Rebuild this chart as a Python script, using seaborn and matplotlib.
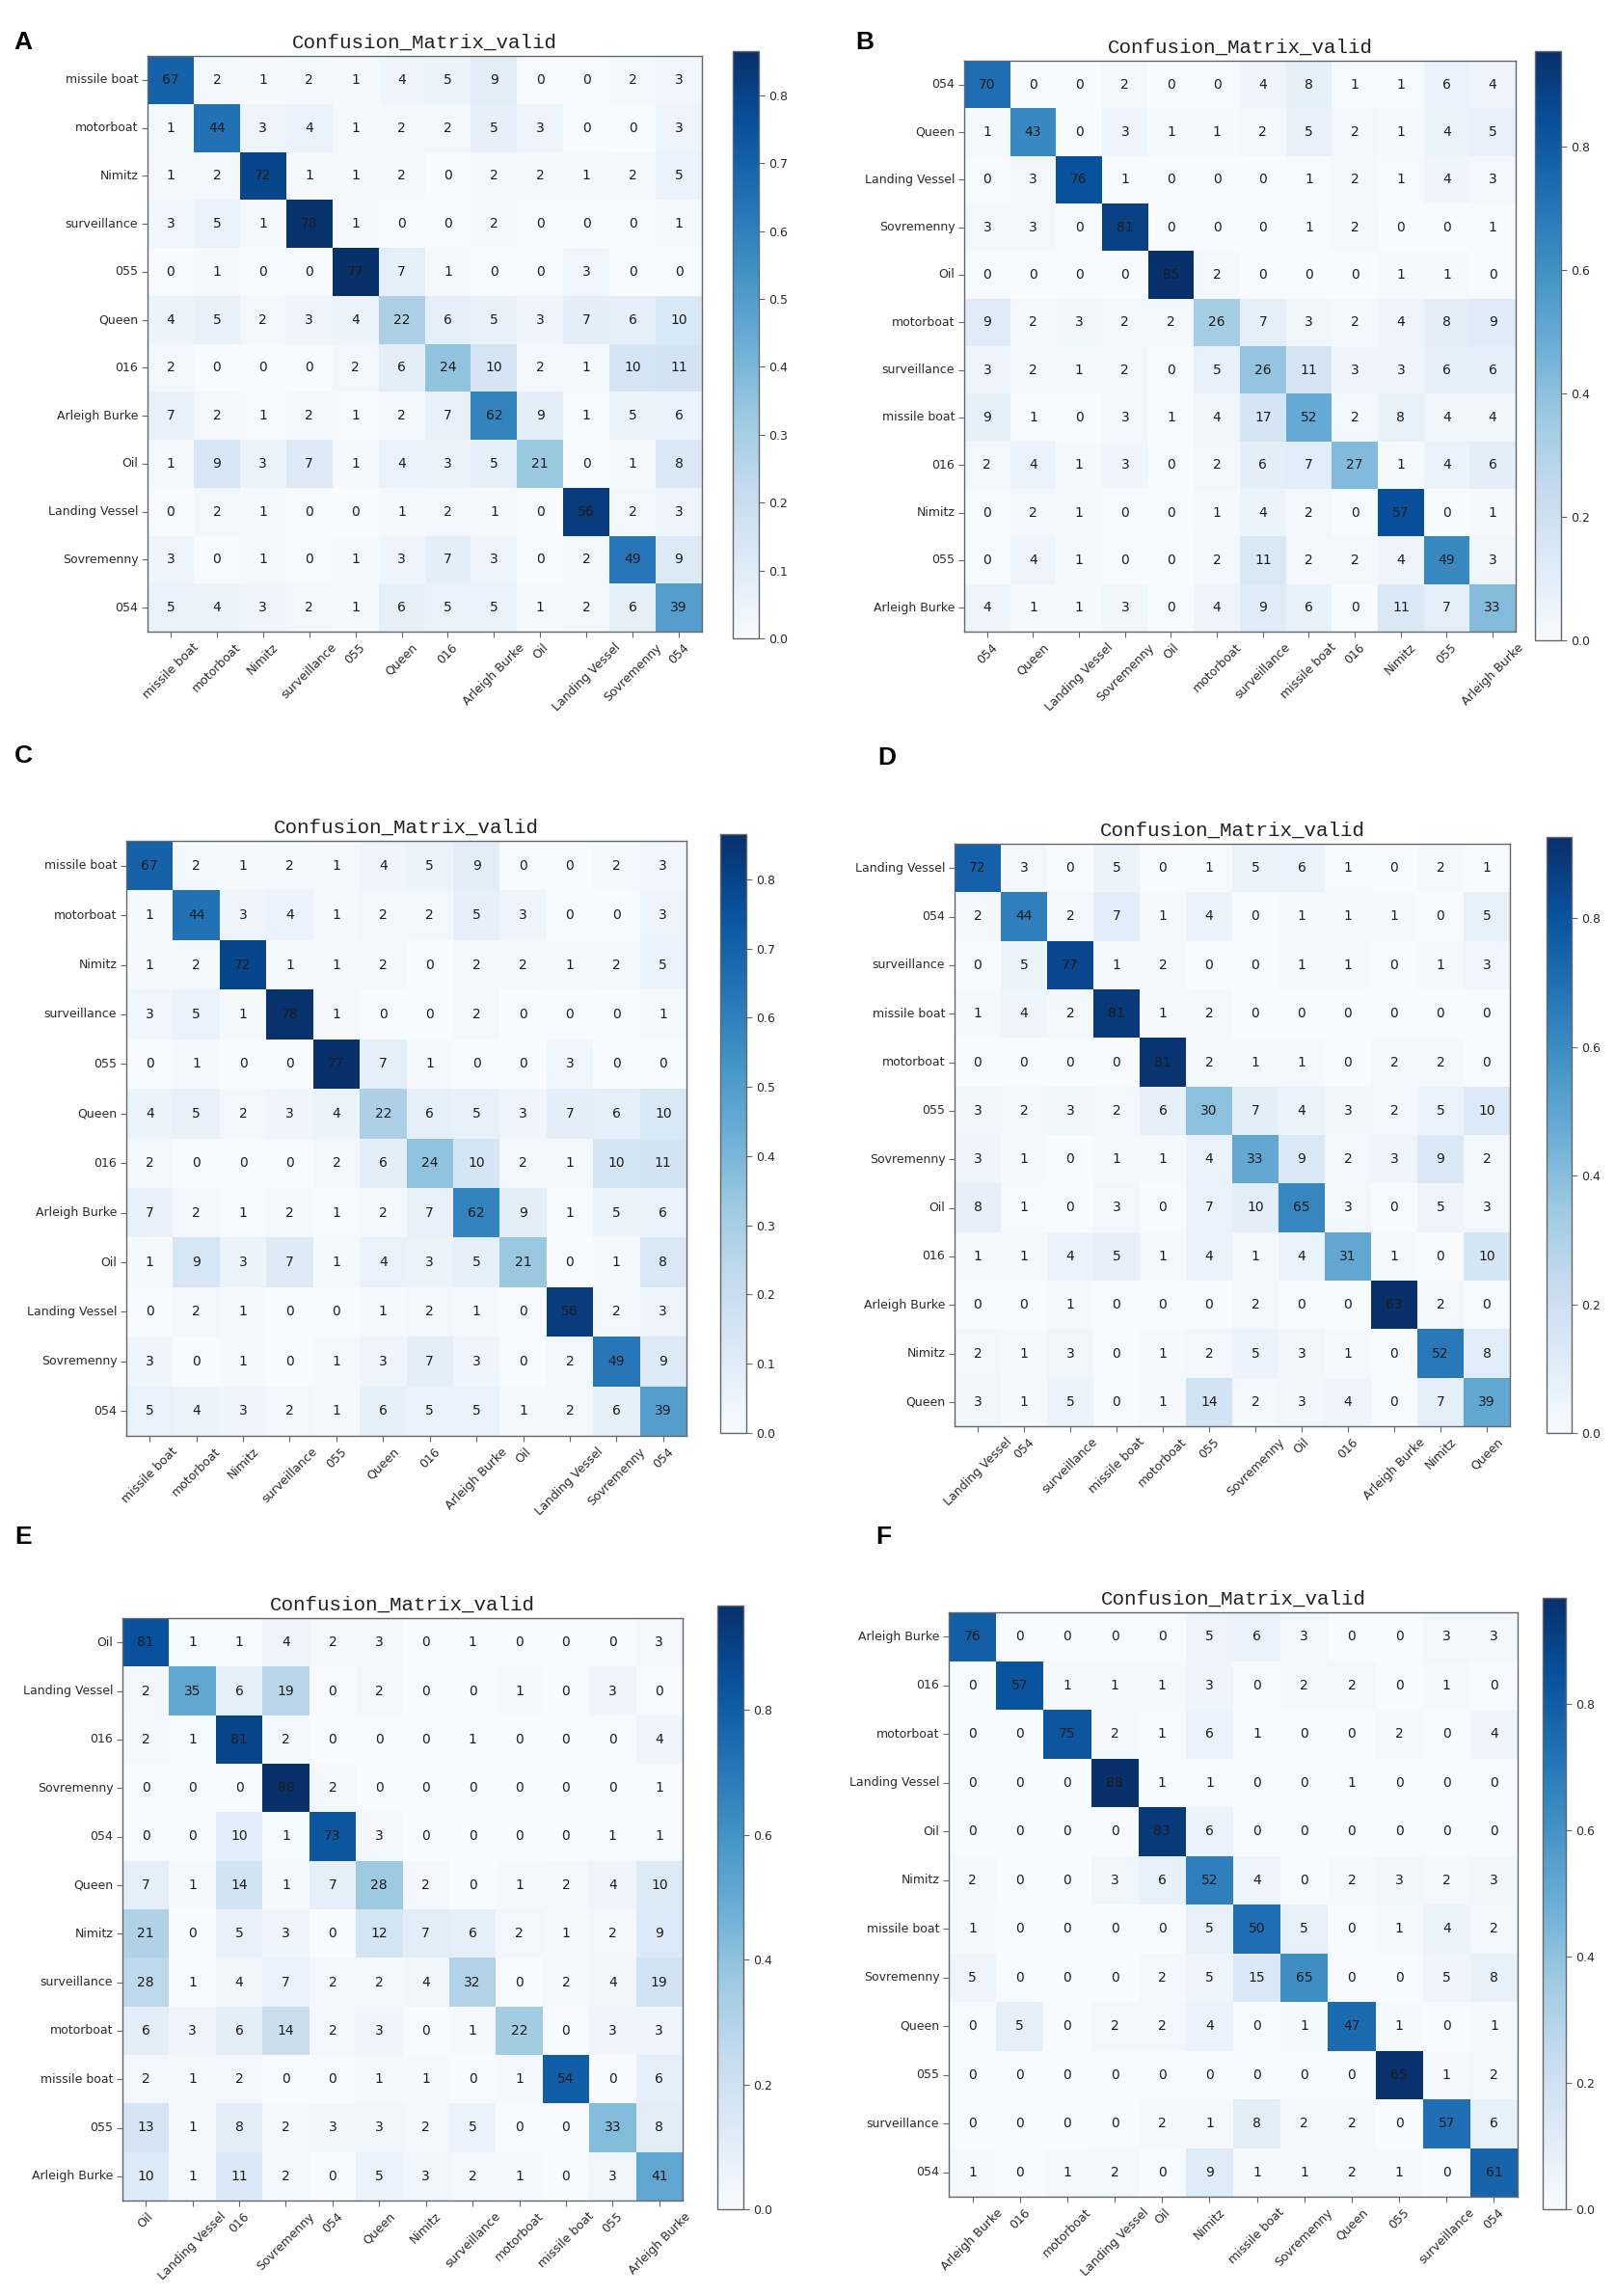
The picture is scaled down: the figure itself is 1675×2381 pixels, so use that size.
import numpy as np
import pandas as pd
import matplotlib
matplotlib.use("Agg")
import matplotlib.pyplot as plt
import seaborn as sns

# ---------------- data ----------------
labels_A = ["missile boat", "motorboat", "Nimitz", "surveillance", "055", "Queen",
            "016", "Arleigh Burke", "Oil", "Landing Vessel", "Sovremenny", "054"]
cm_A = [
    [67, 2, 1, 2, 1, 4, 5, 9, 0, 0, 2, 3],
    [1, 44, 3, 4, 1, 2, 2, 5, 3, 0, 0, 3],
    [1, 2, 72, 1, 1, 2, 0, 2, 2, 1, 2, 5],
    [3, 5, 1, 78, 1, 0, 0, 2, 0, 0, 0, 1],
    [0, 1, 0, 0, 77, 7, 1, 0, 0, 3, 0, 0],
    [4, 5, 2, 3, 4, 22, 6, 5, 3, 7, 6, 10],
    [2, 0, 0, 0, 2, 6, 24, 10, 2, 1, 10, 11],
    [7, 2, 1, 2, 1, 2, 7, 62, 9, 1, 5, 6],
    [1, 9, 3, 7, 1, 4, 3, 5, 21, 0, 1, 8],
    [0, 2, 1, 0, 0, 1, 2, 1, 0, 56, 2, 3],
    [3, 0, 1, 0, 1, 3, 7, 3, 0, 2, 49, 9],
    [5, 4, 3, 2, 1, 6, 5, 5, 1, 2, 6, 39],
]

labels_B = ["054", "Queen", "Landing Vessel", "Sovremenny", "Oil", "motorboat",
            "surveillance", "missile boat", "016", "Nimitz", "055", "Arleigh Burke"]
cm_B = [
    [70, 0, 0, 2, 0, 0, 4, 8, 1, 1, 6, 4],
    [1, 43, 0, 3, 1, 1, 2, 5, 2, 1, 4, 5],
    [0, 3, 76, 1, 0, 0, 0, 1, 2, 1, 4, 3],
    [3, 3, 0, 81, 0, 0, 0, 1, 2, 0, 0, 1],
    [0, 0, 0, 0, 85, 2, 0, 0, 0, 1, 1, 0],
    [9, 2, 3, 2, 2, 26, 7, 3, 2, 4, 8, 9],
    [3, 2, 1, 2, 0, 5, 26, 11, 3, 3, 6, 6],
    [9, 1, 0, 3, 1, 4, 17, 52, 2, 8, 4, 4],
    [2, 4, 1, 3, 0, 2, 6, 7, 27, 1, 4, 6],
    [0, 2, 1, 0, 0, 1, 4, 2, 0, 57, 0, 1],
    [0, 4, 1, 0, 0, 2, 11, 2, 2, 4, 49, 3],
    [4, 1, 1, 3, 0, 4, 9, 6, 0, 11, 7, 33],
]

labels_C = ["missile boat", "motorboat", "Nimitz", "surveillance", "055", "Queen",
            "016", "Arleigh Burke", "Oil", "Landing Vessel", "Sovremenny", "054"]
cm_C = [
    [67, 2, 1, 2, 1, 4, 5, 9, 0, 0, 2, 3],
    [1, 44, 3, 4, 1, 2, 2, 5, 3, 0, 0, 3],
    [1, 2, 72, 1, 1, 2, 0, 2, 2, 1, 2, 5],
    [3, 5, 1, 78, 1, 0, 0, 2, 0, 0, 0, 1],
    [0, 1, 0, 0, 77, 7, 1, 0, 0, 3, 0, 0],
    [4, 5, 2, 3, 4, 22, 6, 5, 3, 7, 6, 10],
    [2, 0, 0, 0, 2, 6, 24, 10, 2, 1, 10, 11],
    [7, 2, 1, 2, 1, 2, 7, 62, 9, 1, 5, 6],
    [1, 9, 3, 7, 1, 4, 3, 5, 21, 0, 1, 8],
    [0, 2, 1, 0, 0, 1, 2, 1, 0, 56, 2, 3],
    [3, 0, 1, 0, 1, 3, 7, 3, 0, 2, 49, 9],
    [5, 4, 3, 2, 1, 6, 5, 5, 1, 2, 6, 39],
]

labels_D = ["Landing Vessel", "054", "surveillance", "missile boat", "motorboat", "055",
            "Sovremenny", "Oil", "016", "Arleigh Burke", "Nimitz", "Queen"]
cm_D = [
    [72, 3, 0, 5, 0, 1, 5, 6, 1, 0, 2, 1],
    [2, 44, 2, 7, 1, 4, 0, 1, 1, 1, 0, 5],
    [0, 5, 77, 1, 2, 0, 0, 1, 1, 0, 1, 3],
    [1, 4, 2, 81, 1, 2, 0, 0, 0, 0, 0, 0],
    [0, 0, 0, 0, 81, 2, 1, 1, 0, 2, 2, 0],
    [3, 2, 3, 2, 6, 30, 7, 4, 3, 2, 5, 10],
    [3, 1, 0, 1, 1, 4, 33, 9, 2, 3, 9, 2],
    [8, 1, 0, 3, 0, 7, 10, 65, 3, 0, 5, 3],
    [1, 1, 4, 5, 1, 4, 1, 4, 31, 1, 0, 10],
    [0, 0, 1, 0, 0, 0, 2, 0, 0, 63, 2, 0],
    [2, 1, 3, 0, 1, 2, 5, 3, 1, 0, 52, 8],
    [3, 1, 5, 0, 1, 14, 2, 3, 4, 0, 7, 39],
]

labels_E = ["Oil", "Landing Vessel", "016", "Sovremenny", "054", "Queen", "Nimitz",
            "surveillance", "motorboat", "missile boat", "055", "Arleigh Burke"]
cm_E = [
    [81, 1, 1, 4, 2, 3, 0, 1, 0, 0, 0, 3],
    [2, 35, 6, 19, 0, 2, 0, 0, 1, 0, 3, 0],
    [2, 1, 81, 2, 0, 0, 0, 1, 0, 0, 0, 4],
    [0, 0, 0, 88, 2, 0, 0, 0, 0, 0, 0, 1],
    [0, 0, 10, 1, 73, 3, 0, 0, 0, 0, 1, 1],
    [7, 1, 14, 1, 7, 28, 2, 0, 1, 2, 4, 10],
    [21, 0, 5, 3, 0, 12, 7, 6, 2, 1, 2, 9],
    [28, 1, 4, 7, 2, 2, 4, 32, 0, 2, 4, 19],
    [6, 3, 6, 14, 2, 3, 0, 1, 22, 0, 3, 3],
    [2, 1, 2, 0, 0, 1, 1, 0, 1, 54, 0, 6],
    [13, 1, 8, 2, 3, 3, 2, 5, 0, 0, 33, 8],
    [10, 1, 11, 2, 0, 5, 3, 2, 1, 0, 3, 41],
]

labels_F = ["Arleigh Burke", "016", "motorboat", "Landing Vessel", "Oil", "Nimitz",
            "missile boat", "Sovremenny", "Queen", "055", "surveillance", "054"]
cm_F = [
    [76, 0, 0, 0, 0, 5, 6, 3, 0, 0, 3, 3],
    [0, 57, 1, 1, 1, 3, 0, 2, 2, 0, 1, 0],
    [0, 0, 75, 2, 1, 6, 1, 0, 0, 2, 0, 4],
    [0, 0, 0, 88, 1, 1, 0, 0, 1, 0, 0, 0],
    [0, 0, 0, 0, 83, 6, 0, 0, 0, 0, 0, 0],
    [2, 0, 0, 3, 6, 52, 4, 0, 2, 3, 2, 3],
    [1, 0, 0, 0, 0, 5, 50, 5, 0, 1, 4, 2],
    [5, 0, 0, 0, 2, 5, 15, 65, 0, 0, 5, 8],
    [0, 5, 0, 2, 2, 4, 0, 1, 47, 1, 0, 1],
    [0, 0, 0, 0, 0, 0, 0, 0, 0, 65, 1, 2],
    [0, 0, 0, 0, 2, 1, 8, 2, 2, 0, 57, 6],
    [1, 0, 1, 2, 0, 9, 1, 1, 2, 1, 0, 61],
]

ticks_fine = [0.0, 0.1, 0.2, 0.3, 0.4, 0.5, 0.6, 0.7, 0.8]
ticks_coarse = [0.0, 0.2, 0.4, 0.6, 0.8]
title_text = "Confusion_Matrix_valid"

# ---------------- layout (pixels) ----------------
W, H = 1675, 2381


def rect(l, t, r, b):
    return [l / W, 1 - b / H, (r - l) / W, (b - t) / H]


panels = [
    ("A", labels_A, cm_A, ticks_fine, (153, 58, 728, 655), (760, 53, 787, 662), (24, 44)),
    ("B", labels_B, cm_B, ticks_coarse, (1000, 63, 1572, 655), (1592, 53, 1619, 664), (897, 44)),
    ("C", labels_C, cm_C, ticks_fine, (131, 872, 712, 1489), (747, 865, 774, 1486), (24, 784)),
    ("D", labels_D, cm_D, ticks_coarse, (990, 875, 1566, 1479), (1604, 868, 1630, 1486), (920, 786)),
    ("E", labels_E, cm_E, ticks_coarse, (127, 1678, 708, 2282), (744, 1665, 771, 2291), (24, 1594)),
    ("F", labels_F, cm_F, ticks_coarse, (984, 1672, 1574, 2278), (1600, 1657, 1624, 2291), (916, 1594)),
]

fig = plt.figure(figsize=(W / 100, H / 100), dpi=100)
fig.patch.set_facecolor("white")

txt_col = "#2b2b2b"
edge_col = "#666666"

for letter, labels, cm, cticks, mrect, crect, lpos in panels:
    counts = np.array(cm, dtype=int)
    norm = counts / counts.sum(axis=1, keepdims=True)
    df = pd.DataFrame(norm, index=labels, columns=labels)

    ax = fig.add_axes(rect(*mrect))
    cax = fig.add_axes(rect(*crect))
    sns.heatmap(df, ax=ax, cbar_ax=cax, cmap="Blues", vmin=0,
                annot=counts, fmt="d",
                annot_kws={"color": "#1c1c1c", "fontsize": 10},
                cbar_kws={"ticks": cticks}, linewidths=0)

    ax.set_title(title_text, fontfamily="Liberation Mono", fontsize=15,
                 pad=6, color="#222222")
    ax.set_xticklabels(labels, rotation=45, ha="center", fontsize=9, color=txt_col)
    ax.set_yticklabels(labels, rotation=0, fontsize=9, color=txt_col)
    ax.set_xlabel("")
    ax.set_ylabel("")
    ax.tick_params(length=4, width=0.8, color=edge_col, pad=3)
    for s in ax.spines.values():
        s.set_visible(True)
        s.set_color(edge_col)
        s.set_linewidth(1.0)

    cb = ax.collections[0].colorbar
    cb.outline.set_linewidth(1.0)
    cb.outline.set_edgecolor(edge_col)
    cb.ax.tick_params(labelsize=9, length=4, width=0.8, color=edge_col,
                      labelcolor=txt_col)
    cb.ax.set_yticklabels([f"{t:.1f}" for t in cticks])

    fig.text(lpos[0] / W, 1 - lpos[1] / H, letter, fontsize=19, fontweight="bold",
             family="Liberation Sans", ha="center", va="center", color="black")

fig.savefig("out.png", dpi=100, facecolor="white")
